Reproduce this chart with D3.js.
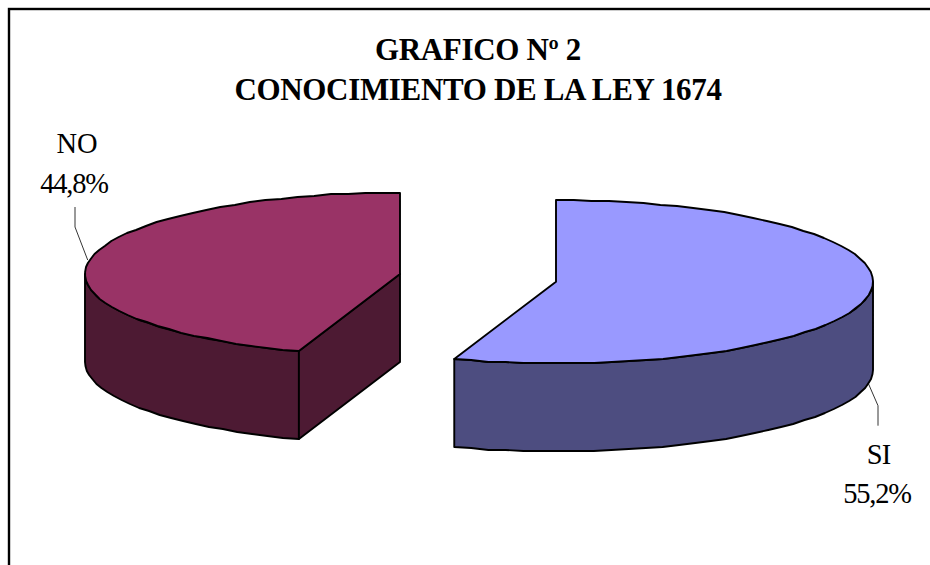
<!DOCTYPE html>
<html><head><meta charset="utf-8">
<script src="https://cdn.jsdelivr.net/npm/d3@7/dist/d3.min.js"></script>
<style>html,body{margin:0;padding:0;background:#fff}svg{display:block}text{font-family:"Liberation Serif",serif;fill:#000}</style>
</head><body><svg id="c" width="930" height="565"></svg>
<script>
const categories = ["SI", "NO"];
const values = [55.2, 44.8];
const valueLabels = ["55,2%", "44,8%"];
const titleLines = ["GRAFICO Nº 2", "CONOCIMIENTO DE LA LEY 1674"];
const topColors = ["#9999FF", "#993366"];
const sideColors = ["#4D4D80", "#4D1A33"];

const svg = d3.select("#c");
svg.append("rect").attr("x",9).attr("y",9).attr("width",960).attr("height",600)
  .attr("fill","#fff").attr("stroke","#000").attr("stroke-width",2.4);

const title = svg.append("g").attr("text-anchor","middle").attr("font-weight","bold");
titleLines.forEach((t,i)=>title.append("text").attr("x",478).attr("y",59.5+i*40)
  .attr("font-size",31).attr("letter-spacing",-0.33).text(t));

const pie = d3.pie().sort(null).value(d=>d);
const arcs = pie(values);
// layout of each exploded slice: centre of its top face
const centers = [{cx:556,cy:281.7,rx:317,ry:81.7},{cx:400,cy:274,rx:315,ry:81.5}];
const depth = 88;
const STEP = Math.PI/56;

function ellipsePts(g,a0,a1,dy=0){
  const n=Math.max(1,Math.ceil(Math.abs(a1-a0)/STEP)), pts=[];
  const t=d3.scaleLinear().domain([0,n]).range([a0,a1]);
  for(let i=0;i<=n;i++){
    const a=t(i);
    pts.push([g.cx+g.rx*Math.sin(a), Math.round(g.cy-g.ry*Math.cos(a))+dy]);
  }
  return pts;
}
const line=d3.line();
function poly(pts,fill){
  return svg.append("path").attr("d",line(pts)+"Z").attr("fill",fill)
    .attr("stroke","#000").attr("stroke-width",1.9).attr("stroke-linejoin","round");
}
const RIGHT=Math.PI/2, LEFT=3*Math.PI/2;
arcs.forEach((d,i)=>{
  const g=centers[i];
  // outer wall: only the part of the rim facing the viewer
  const a0=Math.max(d.startAngle,RIGHT), a1=Math.min(d.endAngle,LEFT);
  if(a1>a0){
    const up=ellipsePts(g,a0,a1), dn=ellipsePts(g,a0,a1,depth).reverse();
    poly(up.concat(dn),sideColors[i]);
  }
  // cut wall facing the viewer
  if(i===1){
    const p=ellipsePts(g,d.startAngle,d.startAngle)[0];
    poly([[g.cx,g.cy],p,[p[0],p[1]+depth],[g.cx,g.cy+depth]],sideColors[i]);
  }
  poly([[g.cx,g.cy]].concat(ellipsePts(g,d.startAngle,d.endAngle)),topColors[i]);
});

// leader lines and labels
const leaders=[[[868,382.7],[878,405.7],[878,425.7]],[[87.7,260],[75,227],[75,207]]];
const labelPos=[{x:878.5,y1:464,y2:503,s:-1},{x:77,y1:153,y2:193,s:0}];
leaders.forEach(l=>svg.append("path").attr("d",line(l)).attr("fill","none").attr("stroke","#000").attr("stroke-width",0.8));
categories.forEach((c,i)=>{
  const p=labelPos[i];
  svg.append("text").attr("x",p.x).attr("y",p.y1).attr("text-anchor","middle").attr("font-size",28.5).attr("letter-spacing",p.s).text(c);
  svg.append("text").attr("x",i?74:877).attr("y",p.y2).attr("text-anchor","middle").attr("font-size",28.5).attr("letter-spacing",-1.2).text(valueLabels[i]);
});
</script></body></html>
